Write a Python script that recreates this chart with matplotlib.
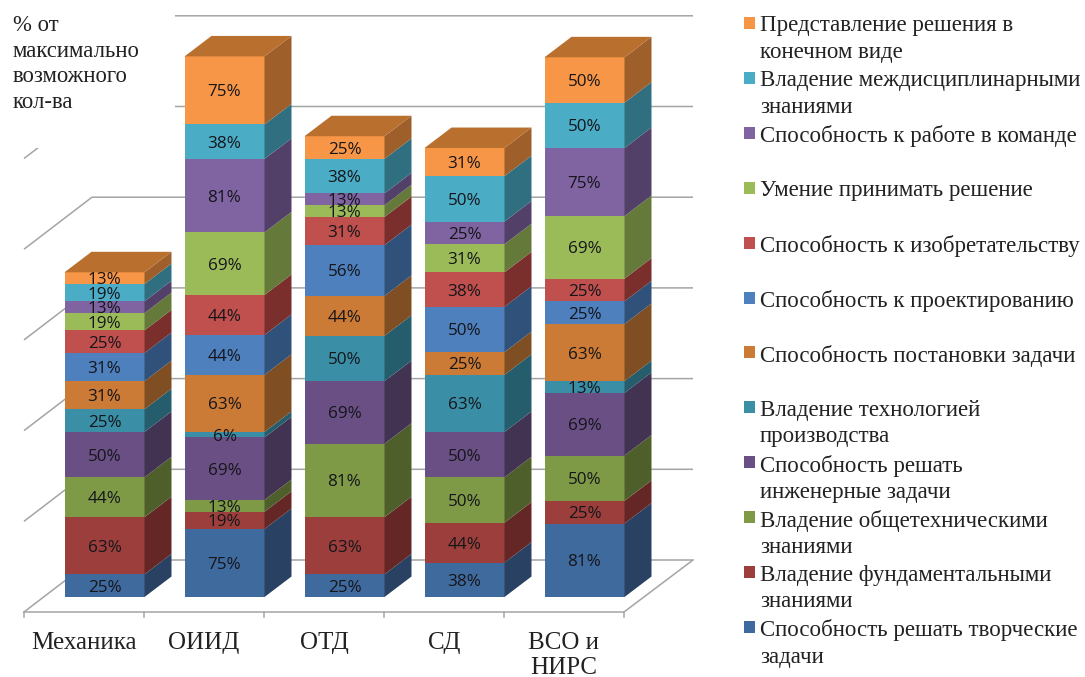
import matplotlib
matplotlib.use("Agg")
import matplotlib.pyplot as plt
from matplotlib.patches import Polygon, Rectangle

categories = ["Механика", "ОИИД", "ОТД", "СД", "ВСО и\nНИРС"]
series_names = [
    "Способность решать творческие\nзадачи",
    "Владение фундаментальными\nзнаниями",
    "Владение общетехническими\nзнаниями",
    "Способность решать\nинженерные задачи",
    "Владение технологией\nпроизводства",
    "Способность постановки задачи",
    "Способность к проектированию",
    "Способность к изобретательству",
    "Умение принимать решение",
    "Способность к работе в команде",
    "Владение междисциплинарными\nзнаниями",
    "Представление решения в\nконечном виде",
]
mechanika = [25, 63, 44, 50, 25, 31, 31, 25, 19, 13, 19, 13]
oiid = [75, 19, 13, 69, 6, 63, 44, 44, 69, 81, 38, 75]
otd = [25, 63, 81, 69, 50, 44, 56, 31, 13, 13, 38, 25]
sd = [38, 44, 50, 50, 63, 25, 50, 38, 31, 25, 50, 31]
vso = [81, 25, 50, 69, 13, 63, 25, 25, 69, 75, 50, 50]
columns = [mechanika, oiid, otd, sd, vso]
front_colors = ["#3F6A9E", "#9C3F3C", "#7F9A47", "#6A4F85", "#3A8FA7", "#CC7B36",
                "#4D80BD", "#C0504D", "#9BBB59", "#8064A2", "#4BACC6", "#F79646"]
side_colors = ["#294263", "#652725", "#4F5F2C", "#433353", "#255D6C", "#7F4E22",
               "#30527A", "#7B2F2D", "#657A3A", "#524068", "#306F80", "#9E5F2B"]
top_color = "#B9702F"
grid_values = [0, 100, 200, 300, 400, 500, 600]
y_title = "% от\nмаксимально\nвозможного\nкол-ва"

W, H = 1085, 677
PX_X, PX_Y = 120.0, 0.907          # pixels per category, pixels per percent
X0, Y0 = 104.5, 597.0              # pixel of first bar centre / bar base
fig = plt.figure(figsize=(W / 100, H / 100), dpi=100)
ax = fig.add_axes([0, 0, 1, 1])
ax.set_xlim(-X0 / PX_X, (W - X0) / PX_X)
ax.set_ylim((Y0 - H) / PX_Y, Y0 / PX_Y)
ax.axis("off")

def X(px):
    return (px - X0) / PX_X

def Y(py):
    return (Y0 - py) / PX_Y

dx, dy = 27 / PX_X, 20.5 / PX_Y
half = 40 / PX_X
SERIF = "Liberation Serif"
GRID = "#A4A4A4"
LW = 1.1
TXT = "#222222"

# walls and floor
wall_off = 37 / PX_Y
wl, wr = X(92), X(693)
fl = X(24)
drop = 52 / PX_Y
for g in grid_values:
    v = g + wall_off
    ax.plot([fl, wl, wr], [v - drop, v, v], color=GRID, lw=LW, zorder=1, solid_capstyle="butt")
floor_y = Y(612)
ax.plot([fl, X(624), wr], [floor_y, floor_y, wall_off], color=GRID, lw=LW, zorder=1)
for k in range(6):
    tx = X(24) + k
    ax.plot([tx, tx], [floor_y, Y(617)], color=GRID, lw=LW, zorder=1)

# white box behind the axis title
ax.add_patch(Rectangle((X(0), Y(148)), 175 / PX_X, 148 / PX_Y, fc="white", ec="none", zorder=2))
ax.text(X(13), Y(64), y_title, family=SERIF, fontsize=16.4, va="center", ha="left",
        linespacing=1.3, color=TXT, zorder=3)

# bars
for i, col in enumerate(columns):
    base = 0
    for s, val in enumerate(col):
        ax.bar(i, val, width=2 * half, bottom=base, color=front_colors[s], zorder=4)
        ax.add_patch(Polygon([(i + half, base), (i + half + dx, base + dy),
                              (i + half + dx, base + val + dy), (i + half, base + val)],
                             fc=side_colors[s], ec="none", zorder=4))
        ax.text(i, base + val / 2 - 2 / PX_Y, f"{val}%", ha="center", va="center",
                family="Open Sans", fontsize=12.3, color="#15151a", zorder=5)
        base += val
    ax.add_patch(Polygon([(i - half, base), (i + half, base), (i + half + dx, base + dy),
                          (i - half + dx, base + dy)], fc=top_color, ec="none", zorder=4))
    ax.text(i - 20.5 / PX_X, Y(632), categories[i], ha="center", va="top", family=SERIF,
            fontsize=18, linespacing=1.2, color=TXT, zorder=5)

# legend
for row, s in enumerate(range(len(series_names) - 1, -1, -1)):
    my = 23 + 54.9 * row
    ax.add_patch(Rectangle((X(743.5), Y(my + 6)), 11 / PX_X, 12 / PX_Y,
                           fc=front_colors[s], ec="none", zorder=5))
    ax.text(X(760), Y(my - 7.5), series_names[s], ha="left", va="top", family=SERIF,
            fontsize=16.5, linespacing=1.33, color=TXT, zorder=5)

fig.savefig("out.png", dpi=100)
